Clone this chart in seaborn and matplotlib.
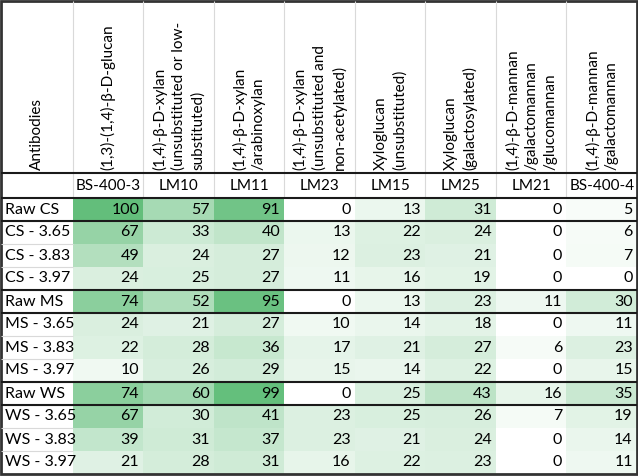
import matplotlib
matplotlib.use("Agg")
import matplotlib.pyplot as plt
from matplotlib.colors import LinearSegmentedColormap
import seaborn as sns
import pandas as pd
import numpy as np

# Table contents
antibodies = ["BS-400-3", "LM10", "LM11", "LM23", "LM15", "LM25", "LM21", "BS-400-4"]
epitopes = [
    "(1,3)-(1,4)-β-D-glucan",
    "(1,4)-β-D-xylan\n(unsubstituted or low-\nsubstituted)",
    "(1,4)-β-D-xylan\n/arabinoxylan",
    "(1,4)-β-D-xylan\n(unsubstituted and\nnon-acetylated)",
    "Xyloglucan\n(unsubstituted)",
    "Xyloglucan\n(galactosylated)",
    "(1,4)-β-D-mannan\n/galactomannan\n/glucomannan",
    "(1,4)-β-D-mannan\n/galactomannan",
]
samples = ["Raw CS", "CS - 3.65", "CS - 3.83", "CS - 3.97",
           "Raw MS", "MS - 3.65", "MS - 3.83", "MS - 3.97",
           "Raw WS", "WS - 3.65", "WS - 3.83", "WS - 3.97"]
raw_cs = [100, 57, 91, 0, 13, 31, 0, 5]
cs_365 = [67, 33, 40, 13, 22, 24, 0, 6]
cs_383 = [49, 24, 27, 12, 23, 21, 0, 7]
cs_397 = [24, 25, 27, 11, 16, 19, 0, 0]
raw_ms = [74, 52, 95, 0, 13, 23, 11, 30]
ms_365 = [24, 21, 27, 10, 14, 18, 0, 11]
ms_383 = [22, 28, 36, 17, 21, 27, 6, 23]
ms_397 = [10, 26, 29, 15, 14, 22, 0, 15]
raw_ws = [74, 60, 99, 0, 25, 43, 16, 35]
ws_365 = [67, 30, 41, 23, 25, 26, 7, 19]
ws_383 = [39, 31, 37, 23, 21, 24, 0, 14]
ws_397 = [21, 28, 31, 16, 22, 23, 0, 11]

df = pd.DataFrame([raw_cs, cs_365, cs_383, cs_397, raw_ms, ms_365, ms_383, ms_397,
                   raw_ws, ws_365, ws_383, ws_397], index=samples, columns=antibodies)

plt.rcParams['font.family'] = ['Lato', 'DejaVu Sans']
fs = 11

# excel style white -> green colour scale
cmap = LinearSegmentedColormap.from_list("xlgreen", ["#ffffff", "#63be7b"])

fig = plt.figure(figsize=(6.38, 4.76), dpi=100)
ax = fig.add_axes([1 / 638, 2 / 476, 636 / 638, 473 / 476])
sns.heatmap(df, ax=ax, cmap=cmap, vmin=0, vmax=100, cbar=False, annot=True, fmt="d",
            annot_kws={"color": "black", "fontsize": fs + 0.5}, xticklabels=False, yticklabels=False)

# right-align the numbers like in a spreadsheet
for t in ax.texts:
    x, y = t.get_position()
    t.set_position((x + 0.44, y))
    t.set_ha("right")

nrow, ncol = df.shape
lab_w = 72 / 70.6
id_h = 25 / 23
head_h = 172 / 23
ax.set_xlim(-lab_w, ncol)
ax.set_ylim(nrow, -(id_h + head_h))
ax.set_xlabel("")
ax.set_ylabel("")
for s in ax.spines.values():
    s.set_visible(False)

# header: rotated epitope descriptions
ax.text(-lab_w / 2, -id_h - 0.12, "Antibodies", rotation=90, ha="center", va="bottom", fontsize=fs)
for j, lab in enumerate(epitopes):
    ax.text(j + 0.5, -id_h - 0.12, lab, rotation=90, ha="center", va="bottom",
            multialignment="left", fontsize=fs, linespacing=1.4)
    ax.text(j + 0.5, -id_h / 2, antibodies[j], ha="center", va="center", fontsize=fs)

for i, lab in enumerate(samples):
    ax.text(-lab_w + 0.06, i + 0.5, lab, ha="left", va="center", fontsize=fs + 0.5)

# light grid in header / label column
ax.vlines(range(0, ncol), -(id_h + head_h), 0, color="#d9d9d9", lw=0.8)
ax.hlines(range(1, nrow), -lab_w, 0, color="#d9d9d9", lw=0.8)

# heavy separators
for y in [-id_h, 0, 1, 4, 5, 8, 9]:
    ax.axhline(y, color="#1a1a1a", lw=1.5)
ax.add_patch(plt.Rectangle((-lab_w, nrow), ncol + lab_w, -(nrow + id_h + head_h),
                           fill=False, ec="#333333", lw=2, clip_on=False))

fig.savefig("out.png", dpi=100)
